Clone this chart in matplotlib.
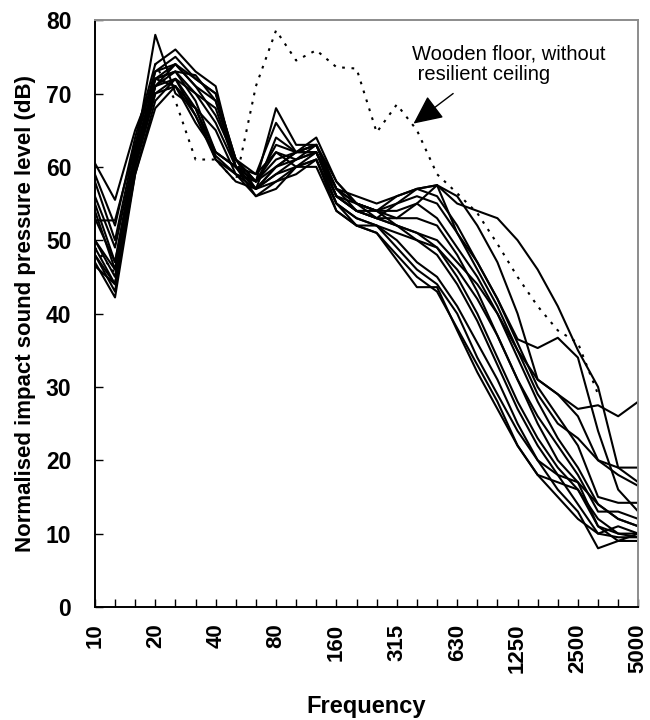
import matplotlib
matplotlib.use("Agg")
import matplotlib.pyplot as plt

plt.rcParams['font.family'] = ['Liberation Sans', 'DejaVu Sans']

freqs = ["10", "12.5", "16", "20", "25", "31.5", "40", "50", "63", "80", "100", "125",
         "160", "200", "250", "315", "400", "500", "630", "800", "1000", "1250",
         "1600", "2000", "2500", "3150", "4000", "5000"]
shown_labels = ["10", "20", "40", "80", "160", "315", "630", "1250", "2500", "5000"]

c1 = [50, 45, 62, 78, 70, 68, 65, 59, 57, 60, 61, 62, 56, 54, 53, 52, 51, 49, 45, 40, 34, 28, 23, 19, 16, 12, 10, 9.5]
c2 = [60.5, 55.5, 65, 72, 74, 72, 70, 61, 58, 68, 63, 63, 57, 55, 53, 55, 57, 57.5, 51, 47, 42, 36, 30, 26, 22, 15, 14.2, 14.2]
c3 = [59, 52, 64, 74, 76, 73, 71, 60, 57, 64, 62, 64, 58, 55, 54, 56, 57, 57.5, 55, 54, 53, 50, 46, 41, 35, 30, 19, 17]
c4 = [52.7, 52.7, 63, 73, 75, 72, 70, 61, 59, 66, 62, 62, 57, 54, 54, 53, 55, 57.5, 56, 52, 47, 40, 31, 29, 27, 27.5, 26, 28]
c5 = [56, 49, 62, 72, 73, 72.5, 69, 60, 58, 62, 61, 63, 57, 56, 55, 56, 57, 56, 52, 47, 42, 36.5, 35.3, 36.7, 34, 24, 16, 13]
c6 = [49, 44, 60, 71, 73, 69, 62, 60, 57, 59, 61, 62, 55, 53, 52, 50, 47, 45, 41, 36, 31, 25, 20, 16, 13, 8, 9, 10]
c7 = [48, 43, 60, 70, 72, 67, 61, 59, 56, 58, 59, 61, 55, 52, 51, 47.3, 43.6, 43.6, 37.7, 32, 27, 22, 18, 17, 16, 11, 9, 9]
c8 = [55, 47, 62, 72, 73, 70, 68, 60, 58, 61, 62, 62, 56, 55, 54, 54, 55, 53, 49, 45, 40, 34, 28, 23, 19, 14, 12, 11]
c9 = [54, 46, 61, 71, 74, 71, 67, 61, 57, 60, 62, 63, 56, 54, 53, 53, 53, 52, 48, 43, 37, 31, 26, 22, 18, 13, 13, 12]
c10 = [47, 42.2, 59, 69, 72, 68, 62, 60, 56, 57, 60, 61, 54, 52, 52, 49, 46, 44, 40, 34, 29, 24, 20, 18, 17, 11, 10, 10]
c11 = [50, 46, 61, 72, 71, 67, 61.5, 59, 58, 60, 62, 63, 58, 55, 54, 52, 51, 50, 47, 44, 40, 35, 31, 29, 26, 20, 18, 16.5]
c12 = [53, 47, 61, 71, 72, 70, 66, 60, 59, 62, 60, 61, 55, 53, 52, 51, 50, 48, 44, 39, 33, 27, 22, 18, 14, 10, 9.5, 9.5]
c13 = [48, 44, 60, 70, 71, 68, 61, 58, 57, 59, 60, 62, 56, 54, 53, 52, 50, 49, 46, 42, 37, 31, 25, 20, 17, 14, 12, 11]
c14 = [58, 50, 63, 73, 74, 71, 69, 61, 58, 63, 62, 63, 57, 55, 54, 55, 56, 55, 51, 46, 41, 35, 29, 25, 23, 20, 19, 19]
c15 = [46.5, 44, 59, 68, 71, 66, 62, 60, 57, 58, 60, 60, 54, 52, 51, 48, 45, 43, 38, 33, 28, 22, 18, 15, 12, 10, 11, 10]
solid_curves = [c1, c2, c3, c4, c5, c6, c7, c8, c9, c10, c11, c12, c13, c14, c15]

wooden_no_ceiling = [49, 45.5, 61, 74, 69, 61, 61, 58, 71, 78.6, 74.5, 75.9, 73.6, 73.4,
                     64.7, 68.5, 65, 59, 56.4, 53.7, 49.5, 45, 41, 37.7, 36, 29]

fig = plt.figure(figsize=(6.5, 7.2), dpi=100)
ax = fig.add_axes([0.146, 0.157, 0.836, 0.815])

x_all = list(range(len(freqs)))
for c in solid_curves:
    ax.plot(x_all, c, color='black', lw=1.5)
ax.plot(list(range(len(wooden_no_ceiling))), wooden_no_ceiling, color='black', lw=1.5,
        linestyle=(0, (1.3, 3.2)))

ax.set_xlim(0, len(freqs) - 1)
ax.set_ylim(0, 80)
ax.set_yticks(range(0, 81, 10))
ax.set_xticks(x_all)
ax.set_xticklabels([f if f in shown_labels else "" for f in freqs], rotation=90,
                   fontsize=16, fontweight='bold')
for lbl in ax.get_yticklabels():
    lbl.set_fontsize(16.5)
    lbl.set_fontweight('bold')
ax.tick_params(axis='both', direction='in', length=6, width=1, colors='black')
ax.tick_params(axis='x', pad=12)
ax.tick_params(axis='y', pad=17)

for side in ['left', 'bottom']:
    ax.spines[side].set_color('black')
    ax.spines[side].set_linewidth(1.4)
for side in ['top', 'right']:
    ax.spines[side].set_color('#8c8c8c')
    ax.spines[side].set_linewidth(1.4)

ax.set_ylabel("Normalised impact sound pressure level (dB)", fontsize=16, fontweight='bold', labelpad=7)
ax.set_xlabel("Frequency", fontsize=17, fontweight='bold', labelpad=16)

ax.text(15.75, 74.0, "Wooden floor, without\n resilient ceiling", fontsize=14.5,
        ha='left', va='center', linespacing=1.15)
ax.annotate("", xy=(15.83, 65.9), xytext=(17.8, 70.0),
            arrowprops=dict(arrowstyle='-|>,head_length=1.8,head_width=0.85', mutation_scale=10,
                            color='black', lw=1, shrinkA=0, shrinkB=0))

fig.savefig("out.png", dpi=100)
